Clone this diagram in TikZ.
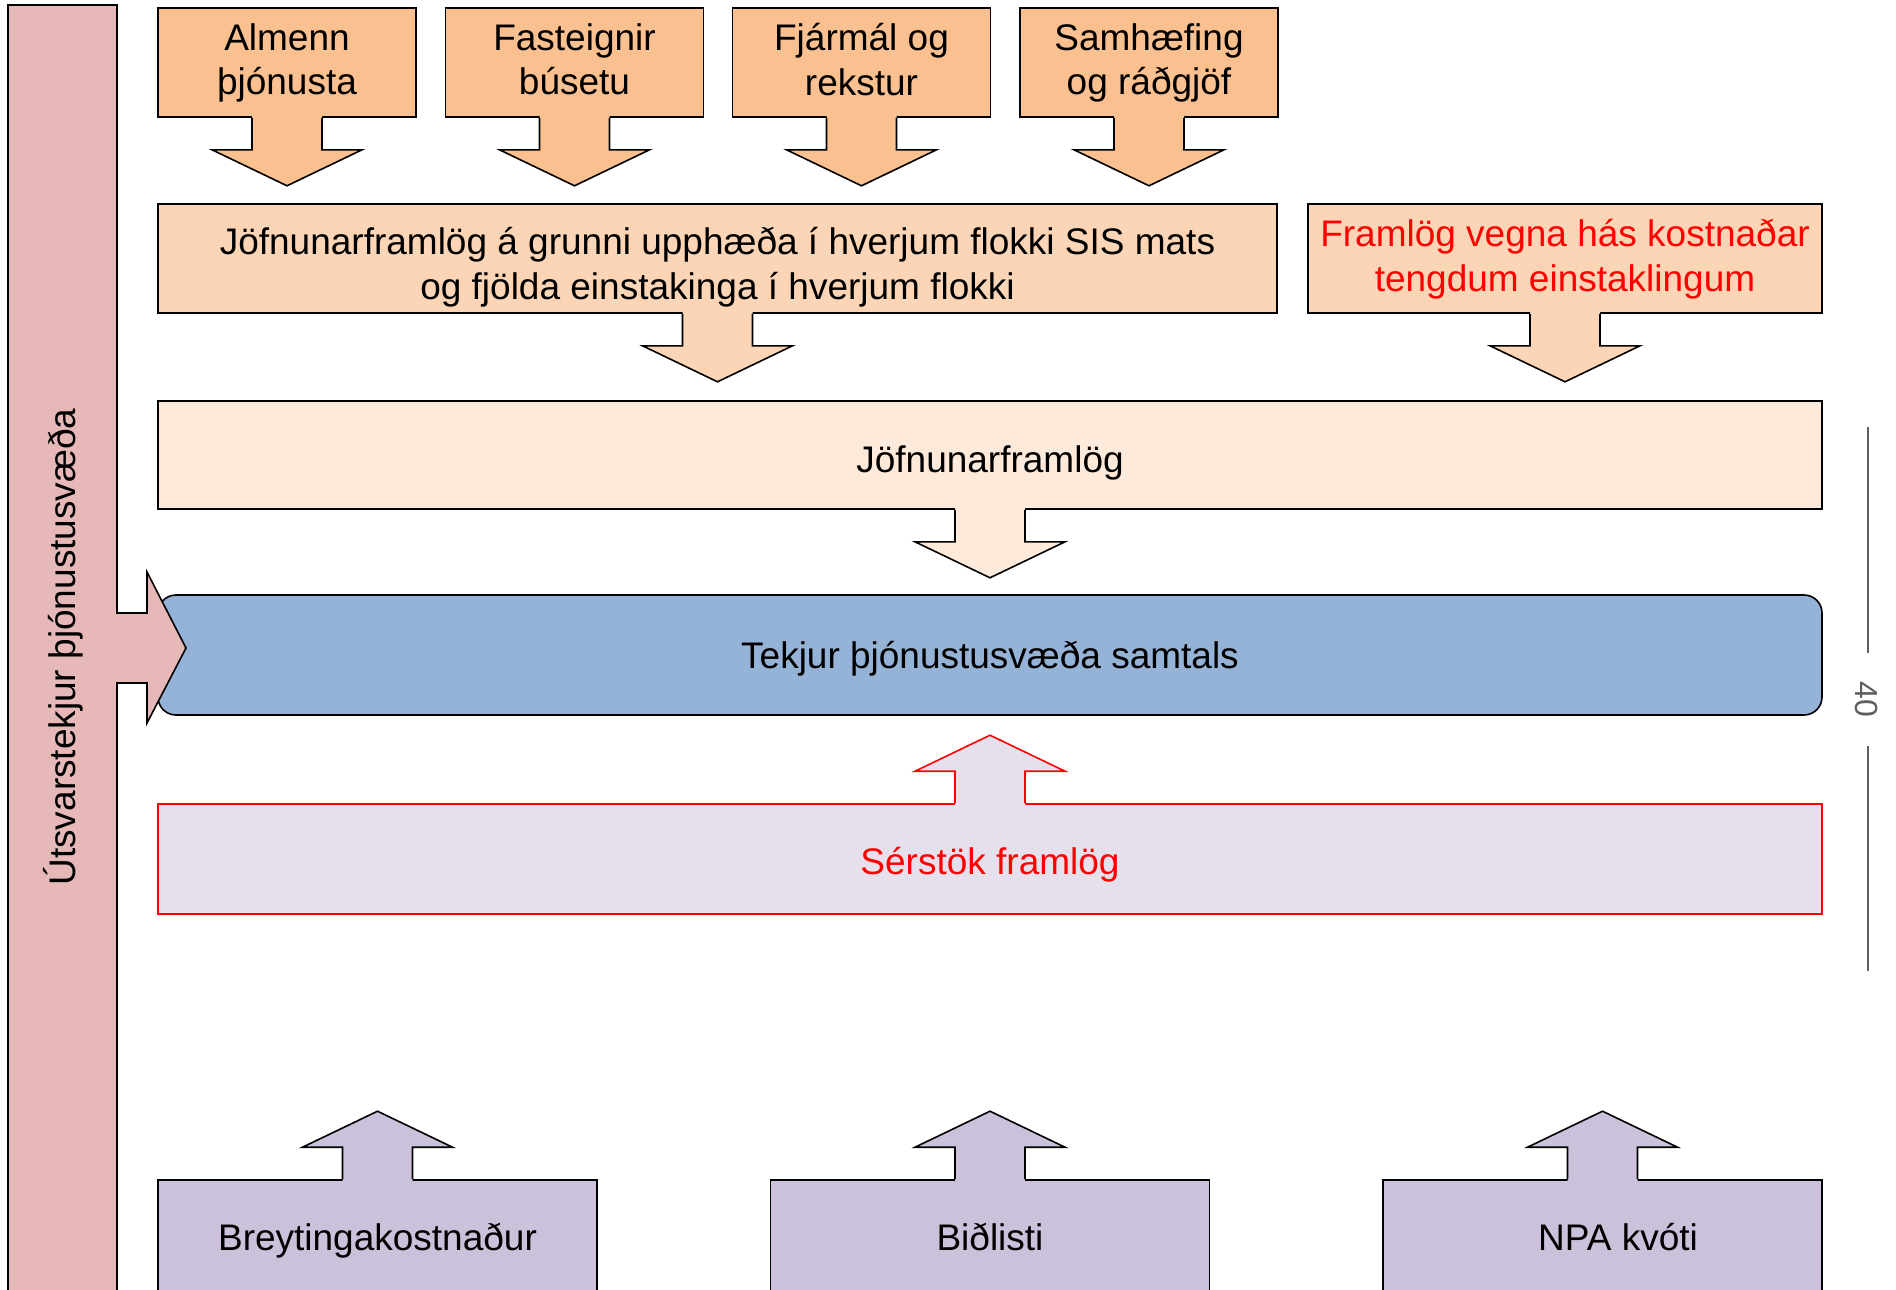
\documentclass[tikz,border=0pt]{standalone}
\usepackage{fontspec}
\setmainfont{Liberation Sans}
\usetikzlibrary{calc}
\definecolor{pinkbar}{HTML}{E6B9B8}
\definecolor{orangeA}{HTML}{FAC090}
\definecolor{orangeB}{HTML}{FBD5B5}
\definecolor{orangeC}{HTML}{FDEADA}
\definecolor{blueT}{HTML}{95B3D7}
\definecolor{lilacS}{HTML}{E6E0EC}
\definecolor{lilacB}{HTML}{CCC1DA}
\definecolor{grayL}{HTML}{5F5F5F}
\tikzset{
  box/.style={draw=black, line width=0.8pt, inner sep=0pt},
  lbl/.style={inner sep=0pt, align=center, font=\fontsize{18.5}{22.2}\selectfont,
    execute at begin node=\strut, execute at end node=\strut},
  topbox/.style={box, fill=orangeA, minimum width=129pt, minimum height=54.5pt},
  botbox/.style={box, fill=lilacB, minimum width=219.5pt, minimum height=57pt},
  widebox/.style={box, minimum width=832pt},
}
% callout arrow leaving a box edge: #1 draw colour, #2 anchor, #3 fill
\newcommand{\calloutdown}[3][black]{%
  \fill[#3] ($(#2)+(-35,-2)$) -- ++(0,34) -- ++(-40,0) -- ++(75,36) -- ++(75,-36) -- ++(-40,0) -- ++(0,-34) -- cycle;
  \draw[#1, line width=0.8pt, line join=miter] ($(#2)+(-35,0)$) -- ++(0,32) -- ++(-40,0) -- ++(75,36) -- ++(75,-36) -- ++(-40,0) -- ++(0,-32);
}
\newcommand{\calloutup}[3][black]{%
  \fill[#3] ($(#2)+(-35,2)$) -- ++(0,-34) -- ++(-40,0) -- ++(75,-36) -- ++(75,36) -- ++(-40,0) -- ++(0,34) -- cycle;
  \draw[#1, line width=0.8pt, line join=miter] ($(#2)+(-35,0)$) -- ++(0,-32) -- ++(-40,0) -- ++(75,-36) -- ++(75,36) -- ++(-40,0) -- ++(0,32);
}
\begin{document}
\begin{tikzpicture}[x=0.5pt,y=-0.5pt]
\useasboundingbox (0,0) rectangle (1896,1290);
\clip (0,0) rectangle (1896,1290);

% top row
\node[topbox] (almenn) at (287,62.5) {};
\node[topbox] (fasteignir) at (574.5,62.5) {};
\node[topbox] (fjarmal) at (861.5,62.5) {};
\node[topbox] (samhaefing) at (1149,62.5) {};
\node[lbl] (almennT) at (287,66) {Almenn\\þjónusta};
\node[lbl] (fasteignirT) at (574.5,66) {Fasteignir\\búsetu};
\node[lbl] (fjarmalT) at (861.5,66) {Fjármál og\\rekstur};
\node[lbl] (samhaefingT) at (1149,66) {Samhæfing\\og ráðgjöf};

% second row
\node[box, fill=orangeB, minimum width=559.5pt, minimum height=54.5pt] (grunni) at (717.5,258.5) {};
\node[lbl] (grunniT) at (717.5,270) {Jöfnunarframlög á grunni upphæða í hverjum flokki SIS mats\\og fjölda einstakinga í hverjum flokki};
\node[box, fill=orangeB, minimum width=257pt, minimum height=54.5pt] (framlog) at (1565,258.5) {};
\node[lbl, text=red] (framlogT) at (1565,262) {Framlög vegna hás kostnaðar\\tengdum einstaklingum};

% third row
\node[widebox, fill=orangeC, minimum height=54pt] (jofn) at (990,455) {};
\node[lbl] (jofnT) at (990,464) {Jöfnunarframlög};

% total
\node[widebox, fill=blueT, minimum height=60pt, rounded corners=9pt] (tekjur) at (990,655) {};
\node[lbl] (tekjurT) at (990,660) {Tekjur þjónustusvæða samtals};

% special
\node[widebox, fill=lilacS, draw=red, minimum height=55pt] (serstok) at (990,859) {};
\node[lbl, text=red] (serstokT) at (990,866) {Sérstök framlög};

% bottom row
\node[botbox] (breyt) at (377.5,1237) {};
\node[botbox] (bidl) at (990,1237) {};
\node[botbox] (npa) at (1602.5,1237) {};
\node[lbl] (breytT) at (377.5,1242) {Breytingakostnaður};
\node[lbl] (bidlT) at (990,1242) {Biðlisti};
\node[lbl] (npaT) at (1618,1242) {NPA kvóti};

% callout arrows
\calloutdown{almenn.south}{orangeA}
\calloutdown{fasteignir.south}{orangeA}
\calloutdown{fjarmal.south}{orangeA}
\calloutdown{samhaefing.south}{orangeA}
\calloutdown{grunni.south}{orangeB}
\calloutdown{framlog.south}{orangeB}
\calloutdown{jofn.south}{orangeC}
\calloutup[red]{serstok.north}{lilacS}
\calloutup{breyt.north}{lilacB}
\calloutup{bidl.north}{lilacB}
\calloutup{npa.north}{lilacB}

% left bar with arrow into the total
\draw[fill=pinkbar, line width=0.8pt, line join=miter]
  (8,5) -- (117,5) -- (117,613) -- (147,613) -- (147,572) -- (186,648) -- (147,723) -- (147,683)
  -- (117,683) -- (117,1310) -- (8,1310) -- cycle;
\node[font=\fontsize{18.5}{22.2}\selectfont, rotate=90] (utsvar) at (63,647) {Útsvarstekjur þjónustusvæða};

% right-hand marker
\node[text=grayL, font=\fontsize{16}{18}\selectfont, rotate=-90, inner sep=0pt] (forty) at (1866,699) {40};
\coordinate (ltop) at (1868,427);
\coordinate (lbot) at (1868,971);
\draw[grayL, line width=1pt] (ltop) -- (ltop |- 0,653);
\draw[grayL, line width=1pt] (lbot |- 0,746) -- (lbot);
\end{tikzpicture}
\end{document}
